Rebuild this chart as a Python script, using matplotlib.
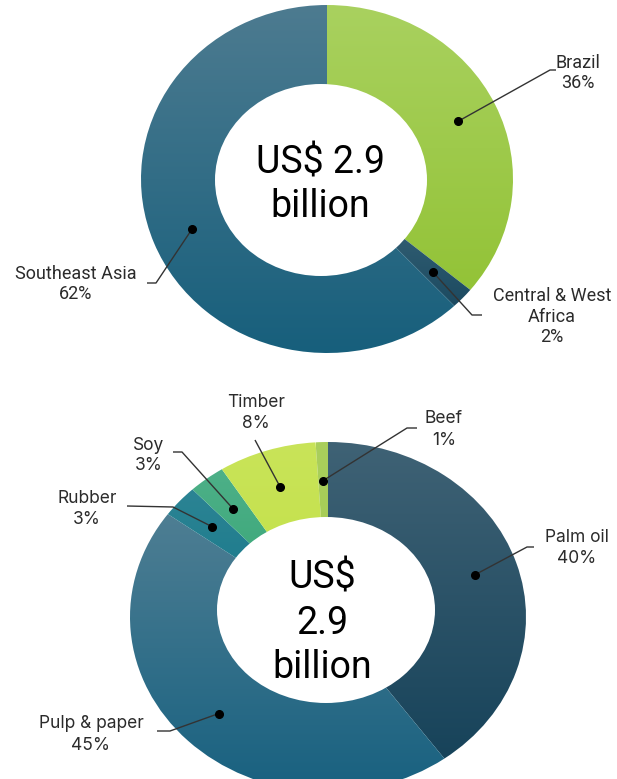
import numpy as np
import matplotlib
matplotlib.use("Agg")
import matplotlib.pyplot as plt
from matplotlib.colors import LinearSegmentedColormap
from matplotlib.patches import Ellipse

# ---- data -------------------------------------------------------------
region_labels = ["Brazil", "Central & West\nAfrica", "Southeast Asia"]
region_shares = [36, 2, 62]
region_colors = [("#a9d15f", "#93c337"),   # (top, bottom) of gradient
                 ("#3f6b80", "#1c4a60"),
                 ("#4d7b90", "#175f7c")]

commodity_labels = ["Palm oil", "Pulp & paper", "Rubber", "Soy", "Timber", "Beef"]
commodity_shares = [40, 45, 3, 3, 8, 1]
commodity_colors = [("#3f6275", "#17435a"),
                    ("#4e7e93", "#186180"),
                    ("#2c8494", "#17788a"),
                    ("#4db088", "#36a474"),
                    ("#c9e459", "#c2e046"),
                    ("#aacf5c", "#a3ca52")]

center_top = ["US$ 2.9", "billion"]
center_bottom = ["US$", "2.9", "billion"]

# ---- figure -----------------------------------------------------------
W, H = 617, 779
fig = plt.figure(figsize=(W / 100, H / 100), dpi=100)
fig.patch.set_facecolor("white")

overlay = fig.add_axes([0, 0, 1, 1], zorder=10)
overlay.set_xlim(0, W)
overlay.set_ylim(H, 0)
overlay.axis("off")
overlay.patch.set_alpha(0)


def donut(cx, cy, rx, ry, shares, colors, hole):
    ax = fig.add_axes([(cx - rx) / W, (H - (cy + ry)) / H, 2 * rx / W, 2 * ry / H])
    wedges, _ = ax.pie(shares, startangle=90, counterclock=False, radius=1,
                       wedgeprops=dict(linewidth=0))
    grad = np.linspace(0, 1, 256).reshape(-1, 1)
    for w, (top, bot) in zip(wedges, colors):
        w.set_facecolor("none")
        t = np.radians(np.linspace(w.theta1, w.theta2, 200))
        xs = np.concatenate([np.cos(t), [0]])
        ys = np.concatenate([np.sin(t), [0]])
        cmap = LinearSegmentedColormap.from_list("g", [bot, top])
        im = ax.imshow(grad, cmap=cmap, origin="lower", aspect="auto",
                       interpolation="bilinear", zorder=1,
                       extent=[xs.min(), xs.max(), ys.min(), ys.max()])
        im.set_clip_path(w)
    hcx, hcy, hrx, hry = hole
    ax.add_patch(Ellipse(((hcx - cx) / rx, -(hcy - cy) / ry),
                         2 * hrx / rx, 2 * hry / ry,
                         facecolor="white", edgecolor="none", zorder=3))
    ax.set_aspect("auto")
    ax.set_xlim(-1, 1)
    ax.set_ylim(-1, 1)
    ax.axis("off")

    # label anchor dots at each slice's middle angle
    cum = np.cumsum([0] + list(shares))
    mids = (cum[:-1] + cum[1:]) / 2 / cum[-1] * 2 * np.pi
    r = 0.78
    return [(cx + r * rx * np.sin(a), cy - r * ry * np.cos(a)) for a in mids]


def leader(dot, path, labels, tx, baselines, font, size=13):
    pts = [dot] + path
    overlay.plot([p[0] for p in pts], [p[1] for p in pts], color="#333333", lw=1.0,
                 solid_capstyle="butt")
    overlay.plot(*dot, "o", color="black", ms=5.5)
    for line, yb in zip(labels, baselines):
        overlay.text(tx, yb, line, ha="center", va="baseline", fontsize=size,
                     color="#2b2b2b", family=font)


# ---- top donut: regions ----------------------------------------------
TCX, TCY, TRX, TRY = 327, 179, 186, 174
dots = donut(TCX, TCY, TRX, TRY, region_shares, region_colors, (321, 180, 106, 96))

top_layout = [
    ([(550, 70), (556, 70)], 578, [68, 88]),
    ([(472, 315), (482, 315)], 552, [301, 322, 342]),
    ([(156, 283), (147, 283)], 76, [279, 299]),
]
for dot, lab, share, (path, tx, bls) in zip(dots, region_labels, region_shares, top_layout):
    leader(dot, path, lab.split("\n") + [f"{share}%"], tx, bls, "Roboto")

overlay.text(320, 173, center_top[0], ha="center", va="baseline", fontsize=27,
             family="Roboto", color="black")
overlay.text(320, 217, center_top[1], ha="center", va="baseline", fontsize=27,
             family="Roboto", color="black")

# ---- bottom donut: commodities ---------------------------------------
BCX, BCY, BRX, BRY = 328, 617, 198, 175
dots = donut(BCX, BCY, BRX, BRY, commodity_shares, commodity_colors, (326, 610, 109, 93))

bottom_layout = [
    ([(527, 547), (534, 547)], 577, [542, 563]),
    ([(170, 731), (157, 731)], 91, [728, 750]),
    ([(173, 507), (127, 506)], 87, [503, 524]),
    ([(182, 452), (173, 452)], 149, [450, 470]),
    ([(255, 440)], 256, [407, 428]),
    ([(407, 428), (417, 428)], 444, [423, 445]),
]
for dot, lab, share, (path, tx, bls) in zip(dots, commodity_labels, commodity_shares, bottom_layout):
    leader(dot, path, [lab, f"{share}%"], tx, bls, "Inter", size=12.5)

for line, yb in zip(center_bottom, [588, 634, 678]):
    overlay.text(322, yb, line, ha="center", va="baseline", fontsize=27,
                 family="Roboto", color="black")

fig.savefig("out.png", dpi=100, facecolor="white")
